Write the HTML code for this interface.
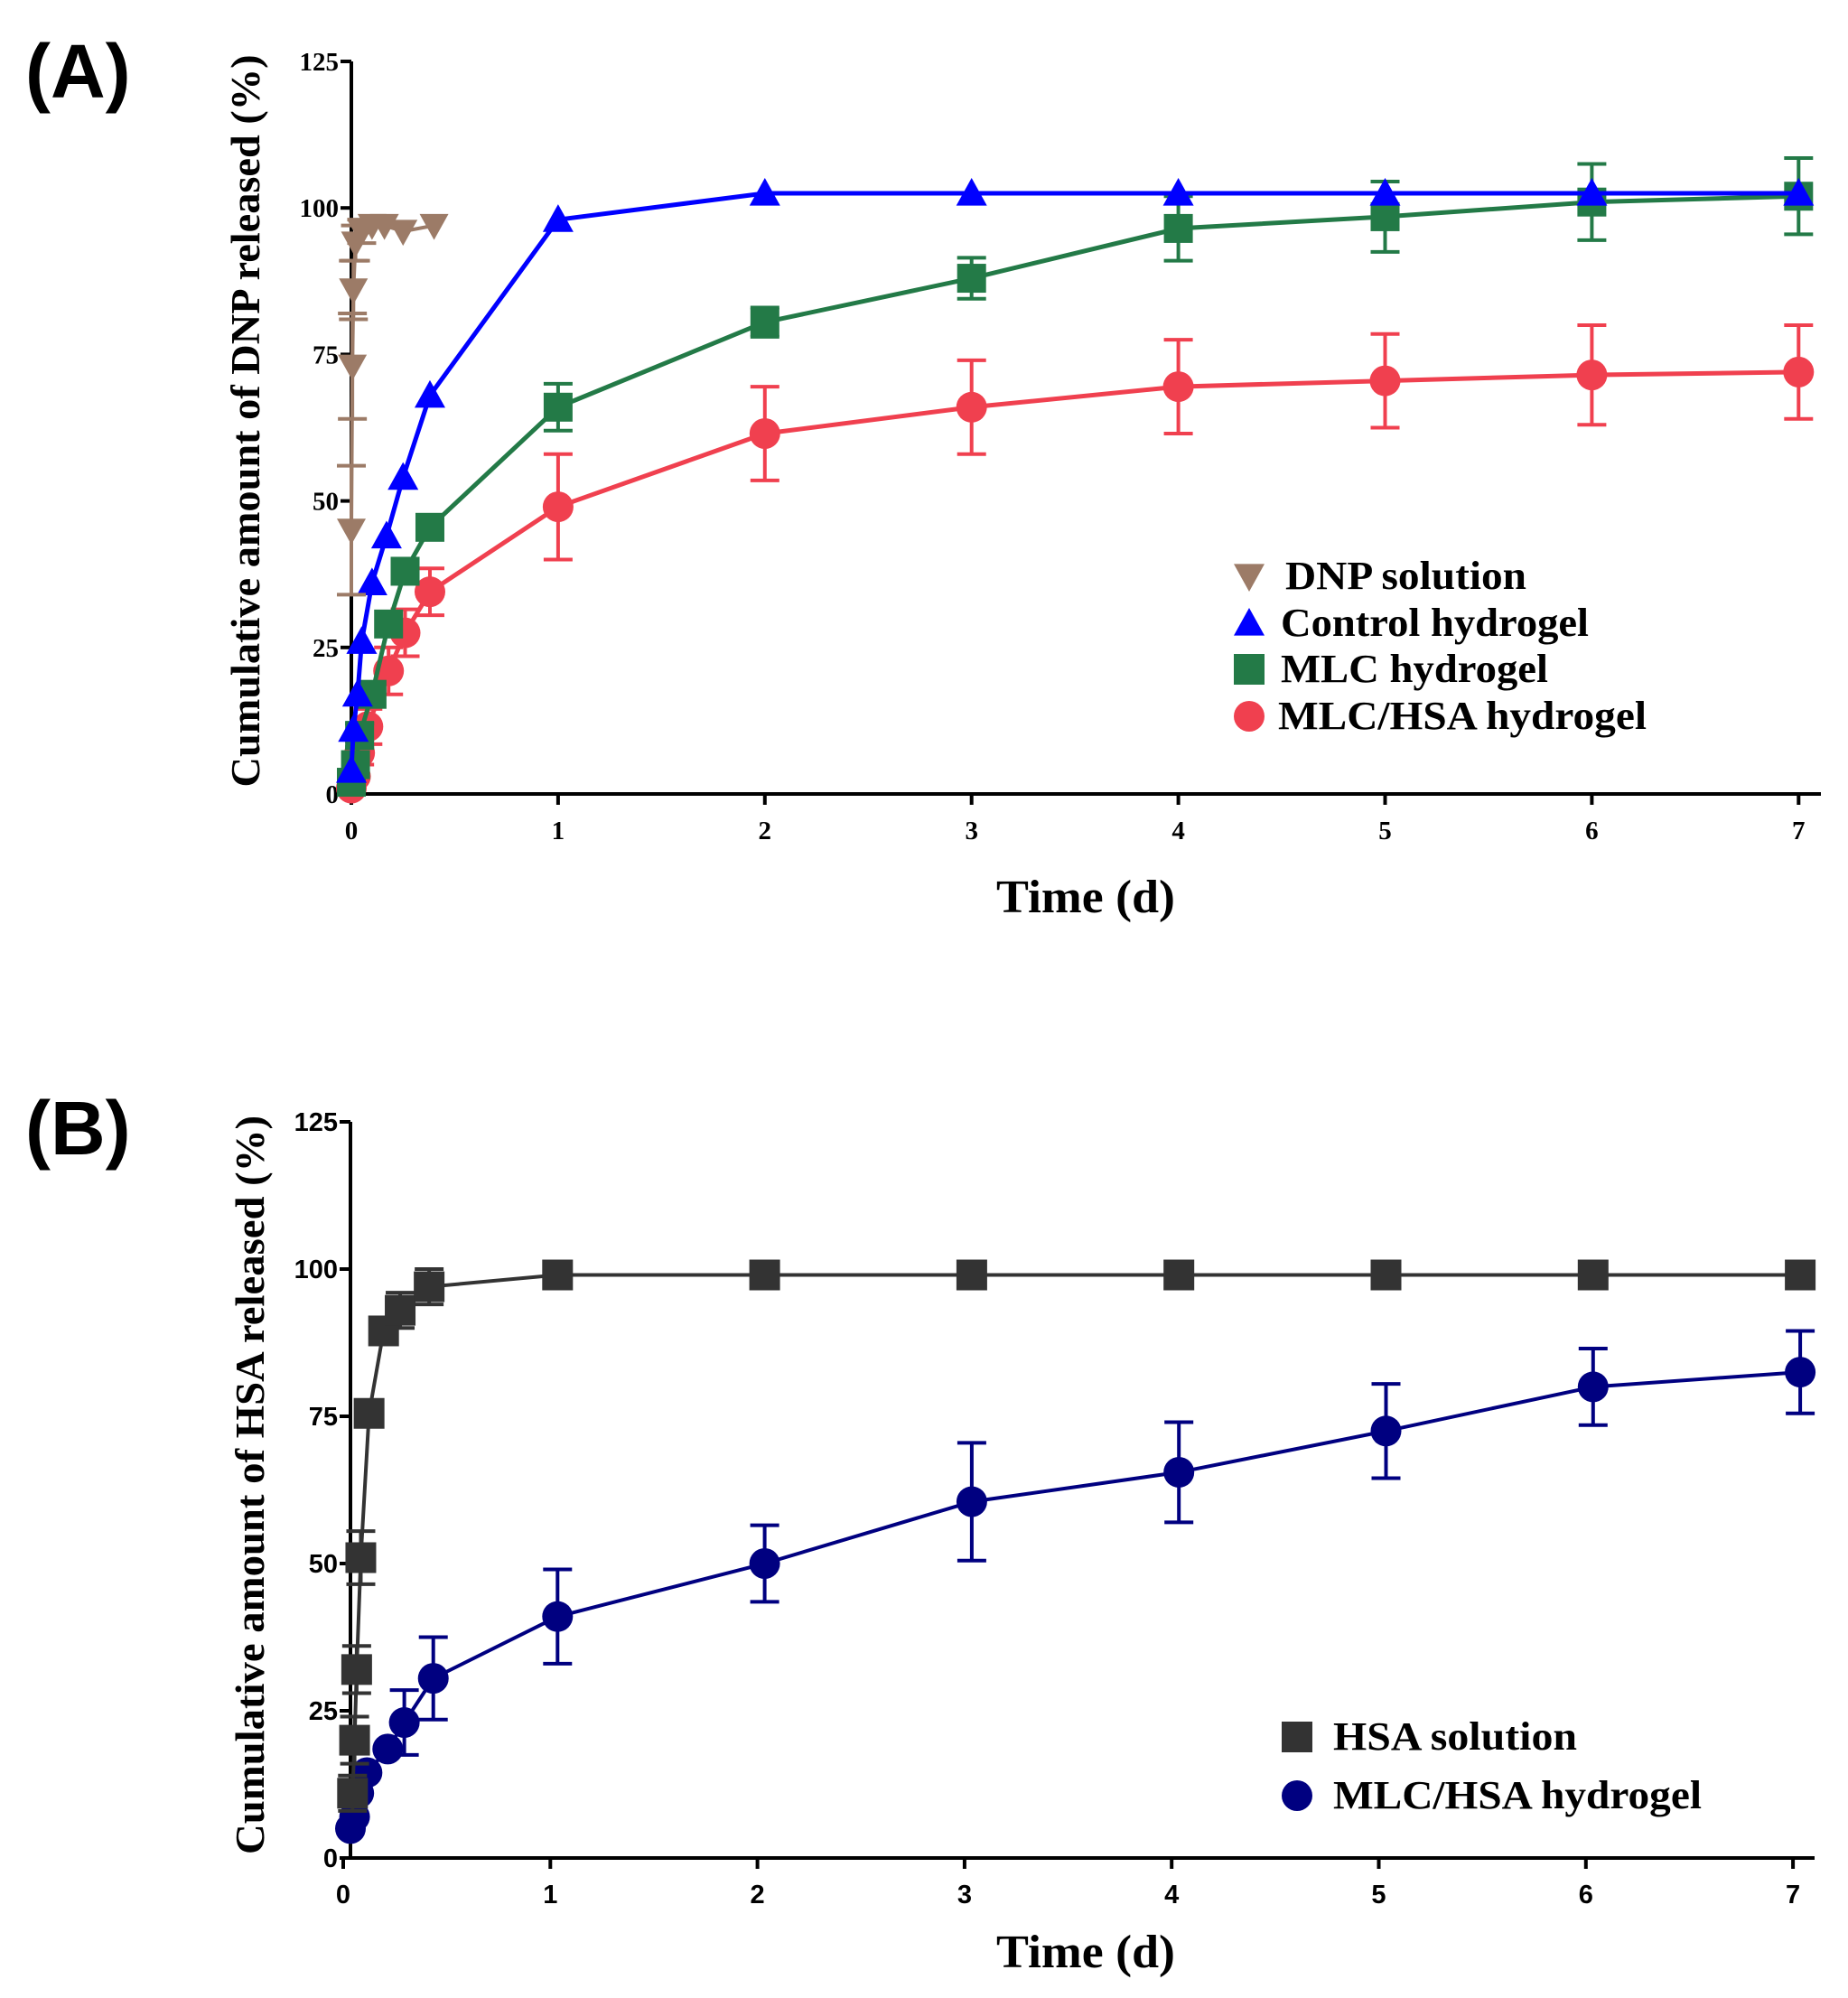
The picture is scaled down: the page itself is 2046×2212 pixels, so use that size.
<!DOCTYPE html>
<html><head><meta charset="utf-8"><style>
html,body{margin:0;padding:0;background:#fff}
svg{display:block}
.t{font-family:"Liberation Serif",serif;font-weight:bold}
.s{font-family:"Liberation Sans",sans-serif;font-weight:bold}
</style></head><body>
<svg id="c" width="2046" height="2212" viewBox="0 0 2046 2212" xmlns="http://www.w3.org/2000/svg">
<text x="28" y="108" class="s" font-size="84">(A)</text>
<text x="28" y="1278" class="s" font-size="84">(B)</text>
<text class="t" font-size="45" transform="translate(287,466) rotate(-90)" text-anchor="middle" textLength="811" lengthAdjust="spacingAndGlyphs">Cumulative amount of DNP released (%)</text>
<text class="t" font-size="45" transform="translate(292,1644) rotate(-90)" text-anchor="middle" textLength="818" lengthAdjust="spacingAndGlyphs">Cumulative amount of HSA released (%)</text>
<text x="1202" y="1010" class="t" font-size="52" text-anchor="middle" textLength="198" lengthAdjust="spacingAndGlyphs">Time (d)</text>
<text x="1202" y="2178" class="t" font-size="52" text-anchor="middle" textLength="198" lengthAdjust="spacingAndGlyphs">Time (d)</text>
<g id="g"></g>
</svg>
<script>
const NS="http://www.w3.org/2000/svg",G=document.getElementById('g');
function el(t,a,txt){const e=document.createElementNS(NS,t);for(const k in a)e.setAttribute(k,a[k]);if(txt!=null)e.textContent=txt;G.appendChild(e);return e;}
function axes(o){
 el('line',{x1:o.ax,y1:o.y0,x2:o.xend,y2:o.y0,stroke:'#000','stroke-width':4});
 el('line',{x1:o.ax,y1:o.yt,x2:o.ax,y2:o.y0+2,stroke:'#000','stroke-width':4});
 for(let i=0;i<=5;i++){const y=o.y0-(o.y0-o.yt)*i/5;
  el('line',{x1:o.ax-12,y1:y,x2:o.ax,y2:y,stroke:'#000','stroke-width':4});
  el('text',{x:o.ax-14,y:y+10,'text-anchor':'end','font-size':o.fs,class:o.cls},String(i*25));}
 for(let d=0;d<=7;d++){const x=o.tx0+d*o.pd;
  el('line',{x1:x,y1:o.y0,x2:x,y2:o.y0+12,stroke:'#000','stroke-width':4});
  el('text',{x:x,y:o.y0+50,'text-anchor':'middle','font-size':o.fs,class:o.cls},String(d));}
}
function marker(sh,x,y,c,r){
 if(sh=='sq')el('rect',{x:x-r,y:y-r,width:2*r,height:2*r,fill:c});
 else if(sh=='ci')el('circle',{cx:x,cy:y,r:r,fill:c});
 else if(sh=='tu')el('polygon',{points:`${x},${y-r} ${x-r},${y+r*0.8} ${x+r},${y+r*0.8}`,fill:c});
 else if(sh=='td')el('polygon',{points:`${x},${y+r} ${x-r},${y-r*0.8} ${x+r},${y-r*0.8}`,fill:c});
}
function series(o,data,c,sh,r,lw){
 const X=d=>o.dx0+d*o.pd,Y=v=>o.y0-(o.y0-o.yt)*v/125;
 el('polyline',{points:data.map(p=>X(p[0])+','+Y(p[1])).join(' '),fill:'none',stroke:c,'stroke-width':lw,'stroke-linejoin':'round'});
 data.forEach(p=>{if(p[2]){const x=X(p[0]),a=Y(p[1]+p[2]),b=Y(p[1]-p[2]);
  el('line',{x1:x,y1:a,x2:x,y2:b,stroke:c,'stroke-width':4});
  el('line',{x1:x-16,y1:a,x2:x+16,y2:a,stroke:c,'stroke-width':4});
  el('line',{x1:x-16,y1:b,x2:x+16,y2:b,stroke:c,'stroke-width':4});}});
 data.forEach(p=>marker(sh,X(p[0]),Y(p[1]),c,r));
}
const A={ax:389,y0:879,yt:68,xend:2016,tx0:389,dx0:389,pd:228.9,fs:29,cls:'t'};
const B={ax:388,y0:2057,yt:1242,xend:2009,tx0:380,dx0:388,pd:229.3,fs:29,cls:'s'};
axes(A);axes(B);
series(A,[[0,1],[0.02,3],[0.04,7,2],[0.08,11.5,3],[0.18,21,4],[0.26,27.5,4],[0.38,34.5,4],[1,49,9],[2,61.5,8],[3,66,8],[4,69.5,8],[5,70.5,8],[6,71.5,8.5],[7,72,8]],'#f0404f','ci',17,5);
series(A,[[0,2],[0.02,5],[0.04,10,2],[0.1,17],[0.18,29],[0.26,38],[0.38,45.5],[1,66,4],[2,80.5,2.5],[3,88,3.5],[4,96.5,5.5],[5,98.5,6],[6,101,6.5],[7,102,6.5]],'#237a47','sq',16,5);
series(A,[[0,4],[0.01,11],[0.03,17],[0.05,26],[0.1,36],[0.17,44],[0.25,54],[0.38,68],[1,98],[2,102.5],[3,102.5],[4,102.5],[5,102.5],[6,102.5],[7,102.5]],'#0000ff','tu',17,5);
series(A,[[0,45,11],[0.005,73,9],[0.01,86,5],[0.02,94,3],[0.05,96,2],[0.1,97],[0.16,97],[0.25,96],[0.4,97]],'#9c7b67','td',16,4);
series(B,[[0,5],[0.02,7],[0.04,11],[0.08,14.5],[0.18,18.5],[0.26,23,5.5],[0.4,30.5,7],[1,41,8],[2,50,6.5],[3,60.5,10],[4,65.5,8.5],[5,72.5,8],[6,80,6.5],[7,82.5,7]],'#000080','ci',17,4);
series(B,[[0.01,11,3],[0.02,20,4],[0.03,32,4],[0.05,51,4.5],[0.09,75.5],[0.16,89.5],[0.24,93,3],[0.38,97,3],[1,99],[2,99],[3,99],[4,99],[5,99],[6,99],[7,99]],'#333333','sq',17,4);
const LA=[['td','#9c7b67','DNP solution',638,267,1423],['tu','#0000ff','Control hydrogel',690,341,1418],['sq','#237a47','MLC hydrogel',741,296,1418],['ci','#f0404f','MLC/HSA hydrogel',793,408,1415]];
LA.forEach(l=>{marker(l[0],1383,l[3],l[1],17);el('text',{x:l[5],y:l[3]+14,'font-size':44,class:'t',textLength:l[4],lengthAdjust:'spacingAndGlyphs'},l[2]);});
const LB=[['sq','#333333','HSA solution',1923,270],['ci','#000080','MLC/HSA hydrogel',1988,408]];
LB.forEach(l=>{marker(l[0],1436,l[3],l[1],17);el('text',{x:1476,y:l[3]+14,'font-size':44,class:'t',textLength:l[4],lengthAdjust:'spacingAndGlyphs'},l[2]);});
</script>
</body></html>
